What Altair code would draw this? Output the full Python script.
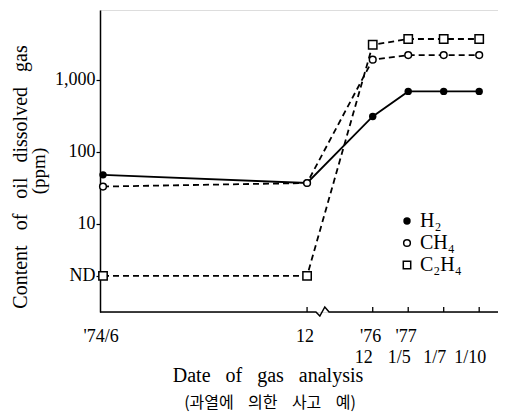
import altair as alt
import pandas as pd

# ---- data ----
dates = ["'74/6", "12", "'76/12", "'77/1/5", "1/7", "1/10"]
pos = [0, 5.75, 7.6, 8.6, 9.6, 10.6]          # position on the broken time axis
ND = 1.9                                        # value used to place "not detected"
h2 = [48, 37, 310, 690, 690, 690]
ch4 = [33, 37, 1900, 2200, 2200, 2200]
c2h4 = [ND, ND, 3060, 3680, 3680, 3680]

y_ticks = [ND, 10, 100, 1000]
y_tick_labels = ["ND", "10", "100", "1,000"]
row1_labels = ["'74/6", "12", "'76", "'77", "", ""]
row2_labels = ["", "", "12", "1/5", "1/7", "1/10"]
legend_names = ["H\u2082", "CH\u2084", "C\u2082H\u2084"]

W, H = 398, 302
X_MAX = 11.13
SERIF = "Liberation Serif"

rows = []
for name, vals in zip(legend_names, [h2, ch4, c2h4]):
    for d, p, v in zip(dates, pos, vals):
        rows.append({"gas": name, "date": d, "pos": p, "val": v})
df = pd.DataFrame(rows)

xs = alt.Scale(domain=[-0.085, X_MAX], nice=False, zero=False)
ys = alt.Scale(type="log", domain=[0.6, 9300], nice=False)

label_expr = ("datum.value < 5 ? 'ND' : (datum.value >= 1000 ? '1,000' : "
              "format(datum.value, 'd'))")

base = alt.Chart(df)

x_enc = alt.X("pos:Q", scale=xs, axis=None)
y_enc = alt.Y("val:Q", scale=ys, axis=alt.Axis(
    values=y_ticks, labelExpr=label_expr, title=None, grid=False,
    tickSize=4, tickColor="black", tickWidth=1.2, domainColor="black",
    domainWidth=1.5, labelFont=SERIF, labelFontSize=18, labelColor="black",
    labelPadding=1))

def sel(i):
    return base.transform_filter(alt.datum.gas == legend_names[i])

h2_line = sel(0).mark_line(color="black", strokeWidth=1.8).encode(x=x_enc, y=y_enc)
ch4_line = sel(1).mark_line(color="black", strokeWidth=1.8,
                            strokeDash=[6, 4]).encode(x=x_enc, y=y_enc)
c2h4_line = sel(2).mark_line(color="black", strokeWidth=1.8,
                             strokeDash=[6, 4]).encode(x=x_enc, y=y_enc)

h2_pts = sel(0).mark_point(shape="circle", filled=True, color="black",
                           size=55, opacity=1).encode(x=x_enc, y=y_enc)
ch4_pts = sel(1).mark_point(shape="circle", fill="white", stroke="black",
                            strokeWidth=1.5, size=45, opacity=1).encode(x=x_enc, y=y_enc)
c2h4_pts = sel(2).mark_point(shape="square", fill="white", stroke="black",
                             strokeWidth=1.5, size=70, opacity=1).encode(x=x_enc, y=y_enc)

# x axis baseline with a break mark between 12 and '76/12
axis_df = pd.DataFrame({
    "pos": [-0.085, 6.0, 6.11, 6.25, 6.37, X_MAX],
    "py": [H, H, H + 4, H - 5, H, H],
    "o": [0, 1, 2, 3, 4, 5],
})
axis_line = alt.Chart(axis_df).mark_line(color="black", strokeWidth=1.5).encode(
    x=alt.X("pos:Q", scale=xs, axis=None),
    y=alt.Y("py:Q", scale=None, axis=None), order="o:Q")

tick_df = pd.DataFrame({"pos": pos[1:]})
x_ticks = alt.Chart(tick_df).mark_rule(color="black", strokeWidth=1.3).encode(
    x=alt.X("pos:Q", scale=xs, axis=None), y=alt.value(H - 5), y2=alt.value(H))

lab_df = pd.DataFrame({"pos": pos, "r1": row1_labels, "r2": row2_labels})
row1 = alt.Chart(lab_df).mark_text(font=SERIF, fontSize=18, color="black",
                                   baseline="middle", dx=-2).encode(
    x=alt.X("pos:Q", scale=xs, axis=None), y=alt.value(H + 25), text="r1:N")
row2 = alt.Chart(lab_df).mark_text(font=SERIF, fontSize=18, color="black",
                                   baseline="middle", dx=-9).encode(
    x=alt.X("pos:Q", scale=xs, axis=None), y=alt.value(H + 46), text="r2:N")

NB = "\u00a0"
SP = NB * 3
ytitle1 = alt.Chart(pd.DataFrame({"t": [f"Content{SP}of{SP}oil{SP}dissolved{SP}gas"]})).mark_text(
    font=SERIF, fontSize=20, color="black", angle=270, baseline="middle").encode(
    x=alt.value(-79), y=alt.value(167), text="t:N")
ytitle2 = alt.Chart(pd.DataFrame({"t": ["(ppm)"]})).mark_text(
    font=SERIF, fontSize=19, color="black", angle=270, baseline="middle").encode(
    x=alt.value(-61), y=alt.value(161), text="t:N")
xtitle = alt.Chart(pd.DataFrame({"t": [f"Date{SP}of{SP}gas{SP}analysis"]})).mark_text(
    font=SERIF, fontSize=20, color="black", baseline="middle").encode(
    x=alt.value(168), y=alt.value(H + 64), text="t:N")
ktitle = alt.Chart(pd.DataFrame({"t": [f"(과열에{NB*4}의한{NB*4}사고{NB*4}예)"]})).mark_text(
    font="Noto Sans CJK KR", fontSize=16, color="black", baseline="middle").encode(
    x=alt.value(170), y=alt.value(H + 91), text="t:N")

# legend
leg_df = pd.DataFrame({"name": legend_names, "k": [0, 1, 2],
                       "py": [211, 233, 255]})
leg_base = alt.Chart(leg_df)
leg_y = alt.Y("py:Q", scale=None, axis=None)
leg_h2 = leg_base.transform_filter(alt.datum.k == 0).mark_point(
    shape="circle", filled=True, color="black", size=55, opacity=1).encode(
    x=alt.value(307), y=leg_y)
leg_ch4 = leg_base.transform_filter(alt.datum.k == 1).mark_point(
    shape="circle", fill="white", stroke="black", strokeWidth=1.5, size=45,
    opacity=1).encode(x=alt.value(307), y=leg_y)
leg_c2h4 = leg_base.transform_filter(alt.datum.k == 2).mark_point(
    shape="square", fill="white", stroke="black", strokeWidth=1.5, size=55,
    opacity=1).encode(x=alt.value(307), y=leg_y)
leg_txt = leg_base.mark_text(font=SERIF, fontSize=20, color="black", align="left",
                             baseline="middle").encode(
    x=alt.value(320), y=leg_y, text="name:N")

chart = alt.layer(
    axis_line, x_ticks, h2_line, ch4_line, c2h4_line, h2_pts, ch4_pts, c2h4_pts,
    row1, row2, ytitle1, ytitle2, xtitle, ktitle,
    leg_h2, leg_ch4, leg_c2h4, leg_txt,
).properties(
    width=W, height=H,
    autosize=alt.AutoSizeParams(type="none"),
    padding={"left": 92, "top": 2, "right": 0, "bottom": 100},
).configure_view(stroke=None).configure(background="white")

chart.save("out.html", embed_options={"renderer": "svg", "actions": False})
